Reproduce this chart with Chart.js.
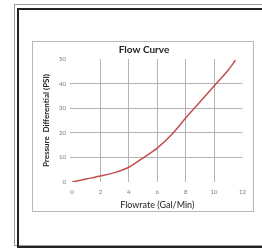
<!DOCTYPE html>
<html>
<head>
<meta charset="utf-8">
<script src="https://cdn.jsdelivr.net/npm/chart.js@4/dist/chart.umd.min.js"></script>
<style>
  html, body { margin: 0; padding: 0; background: #fff; width: 262px; height: 249px; overflow: hidden; }
  #frameOuter { position: absolute; left: 14px; top: 4px; width: 260px; height: 240px; border-left: 1px solid #9a9a9a; border-top: 1px solid #9a9a9a; border-bottom: 1px solid #9a9a9a; }
  #frameInner { position: absolute; left: 17px; top: 8px; width: 260px; height: 236px; border-left: 2px solid #222; border-top: 2px solid #222; border-bottom: 2px solid #222; }
  #box { position: absolute; left: 32px; top: 41px; width: 220px; height: 169px; border: 1px solid #b8b8b8; }
  #wrap { position: absolute; left: 33px; top: 42px; width: 219px; height: 168px; }
</style>
</head>
<body>
<div id="frameOuter"></div>
<div id="frameInner"></div>
<div id="box"></div>
<div id="wrap"><canvas id="myChart" width="219" height="168"></canvas></div>
<script>
"use strict";
// flowrate (gal/min) and pressure differential (psi)
var flowrate = [0, 1, 2, 3, 4, 5, 6, 7, 8, 9, 10, 11, 11.5];
var pressure = [0, 1.2, 2.4, 3.8, 6, 9.8, 13.8, 19.2, 26, 32.5, 39, 45.5, 49.5];
var xTicks = [0, 2, 4, 6, 8, 10, 12];
var yTicks = [0, 10, 20, 30, 40, 50];

var points = [];
for (var i = 0; i < flowrate.length; i = i + 1) {
  points.push({ x: flowrate[i], y: pressure[i] });
}

// hide grid lines on the first and last tick
function gridColor(ctx) {
  var n = ctx.scale.ticks.length;
  if (ctx.index === 0 || ctx.index === n - 1) return "rgba(0,0,0,0)";
  return "#b4b4b4";
}

function buildChart() {
  var ctx = document.getElementById("myChart");
  new Chart(ctx, {
    type: "scatter",
    data: {
      datasets: [{
        data: points,
        showLine: true,
        borderColor: "#c0504d",
        borderWidth: 1.5,
        pointRadius: 0,
        tension: 0.3,
        fill: false
      }]
    },
    options: {
      responsive: false,
      animation: false,
      layout: { padding: { left: 9, right: 6, top: 0, bottom: 0 } },
      plugins: {
        legend: { display: false },
        tooltip: { enabled: false },
        title: {
          display: true,
          text: "Flow Curve",
          color: "#222",
          font: { family: "Lato", size: 10, weight: "bold" },
          padding: { top: 2, bottom: 3 }
        }
      },
      scales: {
        x: {
          type: "linear",
          min: 0, max: 12,
          afterBuildTicks: function (s) { s.ticks = xTicks.map(function (v) { return { value: v }; }); },
          afterFit: function (s) { s.height = 28; },
          border: { display: false },
          grid: { color: gridColor, drawTicks: false, lineWidth: 1 },
          ticks: { color: "#777", font: { family: "Lato", size: 6 }, padding: 6, maxRotation: 0 },
          title: {
            display: true, text: "Flowrate (Gal/Min)", color: "#222",
            font: { family: "Lato", size: 9 }, padding: { top: 1, bottom: 0 }
          }
        },
        y: {
          min: 0, max: 50,
          afterBuildTicks: function (s) { s.ticks = yTicks.map(function (v) { return { value: v }; }); },
          afterFit: function (s) { s.width = 30; },
          border: { display: false },
          grid: { color: gridColor, drawTicks: true, tickLength: 2, lineWidth: 1 },
          ticks: { color: "#777", font: { family: "Lato", size: 6 }, padding: 4 },
          title: {
            display: true, text: "Pressure  Differential (PSI)", color: "#222",
            font: { family: "Lato", size: 8, weight: "bold" }, padding: { top: 0, bottom: 2 }
          }
        }
      }
    }
  });
}

buildChart();
</script>
</body>
</html>
